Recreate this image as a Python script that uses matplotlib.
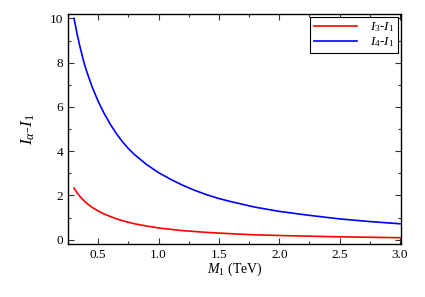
import numpy as np
import matplotlib
matplotlib.use("Agg")
import matplotlib.pyplot as plt
from matplotlib.ticker import MultipleLocator

plt.rcParams["font.family"] = ["Liberation Serif", "DejaVu Serif"]
plt.rcParams["mathtext.fontset"] = "custom"
plt.rcParams["mathtext.rm"] = "Liberation Serif"
plt.rcParams["mathtext.it"] = "Liberation Serif:italic"

# M_1 in TeV
m1 = [0.3, 0.325, 0.35, 0.375, 0.4, 0.45, 0.5, 0.55, 0.6, 0.65, 0.7,
      0.75, 0.8, 0.9, 1.0, 1.1, 1.2, 1.3, 1.4, 1.5, 1.6, 1.8, 2.0,
      2.25, 2.5, 2.75, 3.0]
i3_i1 = [2.33, 2.12, 1.95, 1.80, 1.67, 1.46, 1.30, 1.16, 1.05, 0.95, 0.86,
         0.79, 0.72, 0.62, 0.53, 0.47, 0.41, 0.37, 0.33, 0.30, 0.27, 0.22,
         0.19, 0.16, 0.13, 0.11, 0.09]
i4_i1 = [10.0, 9.3, 8.7, 8.15, 7.68, 6.9, 6.25, 5.7, 5.22, 4.8, 4.43,
         4.12, 3.85, 3.40, 3.03, 2.73, 2.46, 2.23, 2.03, 1.86, 1.72, 1.47,
         1.28, 1.10, 0.94, 0.82, 0.72]

fig = plt.figure(figsize=(4.25, 2.97), dpi=100)
ax = fig.add_axes([0.160, 0.178, 0.784, 0.775])

ax.plot(m1, i3_i1, color="#ff0000", lw=1.2, label=r"$I_3$-$I_1$")
ax.plot(m1, i4_i1, color="#0000ff", lw=1.2, label=r"$I_4$-$I_1$")

ax.set_xlim(0.25, 3.01)
ax.set_ylim(-0.2, 10.2)
ax.xaxis.set_major_locator(MultipleLocator(0.5))
ax.xaxis.set_minor_locator(MultipleLocator(0.25))
ax.yaxis.set_major_locator(MultipleLocator(2))
ax.yaxis.set_minor_locator(MultipleLocator(1))
ax.tick_params(which="both", direction="in", top=True, right=True,
               labelsize=9.5, width=0.8, color="#333333")
ax.tick_params(which="major", length=4)
ax.tick_params(which="minor", length=2)
for s in ax.spines.values():
    s.set_linewidth(1.0)

ax.set_xlabel(r"$M_1$ (TeV)", fontsize=10, labelpad=0)
ax.set_ylabel(r"$I_\alpha$-$I_1$", fontsize=12.5, labelpad=9)

leg = ax.legend(loc="upper right", fontsize=9.5, fancybox=False,
                edgecolor="black", framealpha=1, borderaxespad=0.25,
                handlelength=3.3, handletextpad=1.0, borderpad=0.25,
                labelspacing=0.1)
leg.get_frame().set_linewidth(0.8)

fig.savefig("out.png", dpi=100)
